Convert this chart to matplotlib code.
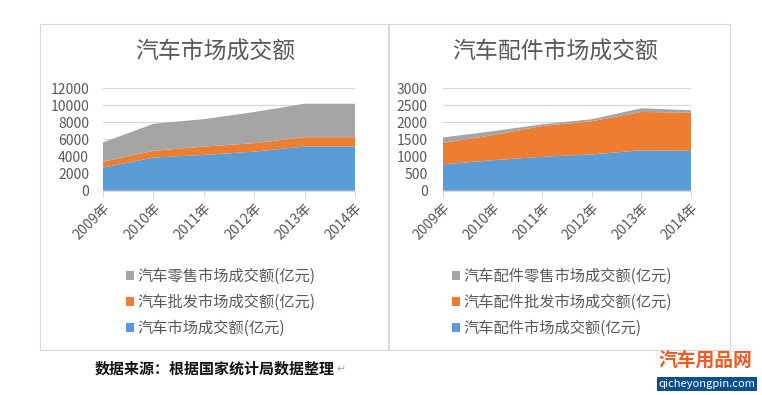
import matplotlib
matplotlib.use("Agg")
import matplotlib.pyplot as plt
from matplotlib.patches import Patch, Rectangle

plt.rcParams['font.family'] = ['Noto Sans CJK SC', 'DejaVu Sans']

years = ["2009年", "2010年", "2011年", "2012年", "2013年", "2014年"]

# 汽车市场 (亿元)
car_total     = [2700, 3870, 4180, 4570, 5160, 5160]
car_wholesale = [700, 780, 980, 980, 1090, 1090]
car_retail    = [2230, 3170, 3200, 3640, 3910, 3910]

# 汽车配件市场 (亿元)
parts_total     = [770, 890, 990, 1060, 1180, 1165]
parts_wholesale = [630, 730, 900, 970, 1120, 1117]
parts_retail    = [155, 117, 49, 58, 108, 68]

car_labels = ["汽车市场成交额(亿元)", "汽车批发市场成交额(亿元)", "汽车零售市场成交额(亿元)"]
parts_labels = ["汽车配件市场成交额(亿元)", "汽车配件批发市场成交额(亿元)", "汽车配件零售市场成交额(亿元)"]

BLUE, ORANGE, GRAY = "#5b9bd5", "#ed7d31", "#a5a5a5"
TXT = "#595959"
W, H = 762, 395

fig = plt.figure(figsize=(W / 100, H / 100), dpi=100)
fig.patch.set_facecolor("white")


def fx(px):
    return px / W


def fy(py):
    return 1 - py / H


# panel borders
for x0, x1 in [(40, 388), (389, 730)]:
    fig.add_artist(Rectangle((fx(x0), fy(350)), fx(x1 - x0), (350 - 24) / H,
                             transform=fig.transFigure, fill=False,
                             edgecolor="#d9d9d9", linewidth=0.8))


def panel(left_px, right_px, ymax, step, series, labels, title, title_x, leg_x, ypad):
    ax = fig.add_axes([fx(left_px), fy(190.7), fx(right_px - left_px), (190.7 - 88) / H])
    x = list(range(len(years)))
    ax.stackplot(x, *series, colors=[BLUE, ORANGE, GRAY], linewidth=0)
    ax.set_xlim(0, len(years) - 1)
    ax.set_ylim(0, ymax)
    ax.set_yticks(range(0, ymax + 1, step))
    ax.yaxis.grid(True, color="#d9d9d9", linewidth=0.9)
    ax.set_axisbelow(True)
    ax.set_xticks(x)
    ax.set_xticklabels(years, rotation=45, ha="right", rotation_mode="anchor")
    ax.tick_params(axis="x", length=4, color="#d9d9d9", labelsize=10, labelcolor=TXT, pad=3)
    ax.tick_params(axis="y", length=0, labelsize=10, labelcolor=TXT, pad=ypad)
    for s in ["top", "right", "left"]:
        ax.spines[s].set_visible(False)
    ax.spines["bottom"].set_color("#d9d9d9")
    fig.text(fx(title_x), fy(52), title, ha="center", va="center",
             fontsize=16.5, color=TXT)
    handles = [Patch(facecolor=c) for c in [GRAY, ORANGE, BLUE]]
    fig.legend(handles, labels[::-1], loc="upper left",
               bbox_to_anchor=(fx(leg_x), fy(268)), frameon=False,
               fontsize=11, labelcolor=TXT, handlelength=0.5, handleheight=0.5,
               handletextpad=0.25, labelspacing=0.58, borderpad=0, borderaxespad=0)


panel(103, 355, 12000, 2000, [car_total, car_wholesale, car_retail],
      car_labels, "汽车市场成交额", 215, 126, 10)
panel(443, 691, 3000, 500, [parts_total, parts_wholesale, parts_retail],
      parts_labels, "汽车配件市场成交额", 555, 452, 11)

# footer
fig.text(fx(95), fy(369), "数据来源：根据国家统计局数据整理", ha="left", va="center",
         fontsize=10.8, fontweight="bold", color="#111111")
fig.text(fx(336), fy(369), "↵", ha="left", va="center", fontsize=8,
         color="#aaaaaa", family=["DejaVu Sans"])

# logo
fig.text(fx(705), fy(361), "汽车用品网", ha="center", va="center",
         fontsize=13.5, fontweight="bold", color="#f15a24")
fig.text(fx(707), fy(384), "qicheyongpin.com", ha="center", va="center",
         fontsize=8, color="white",
         bbox=dict(boxstyle="square,pad=0.15", facecolor="#0b4f8f", edgecolor="none"))

fig.savefig("out.png", dpi=100, facecolor="white")
